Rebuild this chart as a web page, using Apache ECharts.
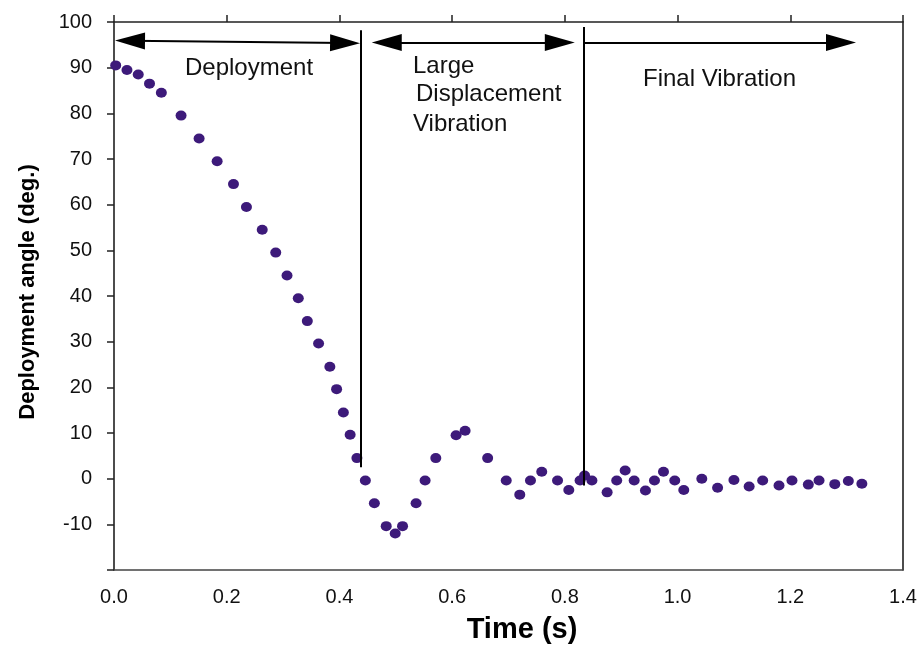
<!DOCTYPE html>
<html>
<head>
<meta charset="utf-8">
<script src="https://cdn.jsdelivr.net/npm/echarts@6/dist/echarts.min.js"></script>
<style>
  html, body { margin: 0; padding: 0; background: #fff; }
  #chart { width: 922px; height: 652px; }
</style>
</head>
<body>
<div id="chart"></div>
<script>
// measured points (time in s, angle in deg.)
const times = [0.003, 0.023, 0.043, 0.063, 0.084, 0.119, 0.151, 0.183, 0.212,
  0.235, 0.263, 0.287, 0.307, 0.327, 0.343, 0.363, 0.383, 0.395,
  0.407, 0.419, 0.431, 0.446, 0.462,
  0.483, 0.499, 0.512, 0.536, 0.552, 0.571, 0.607, 0.623, 0.663,
  0.696, 0.720, 0.739, 0.759, 0.787, 0.807, 0.827, 0.835, 0.848,
  0.875, 0.892, 0.907, 0.923, 0.943,
  0.959, 0.975, 0.995, 1.011,
  1.043, 1.071, 1.100, 1.127, 1.151, 1.180, 1.203, 1.232, 1.251, 1.279, 1.303, 1.327]
const angles = [90.5, 89.5, 88.5, 86.5, 84.5, 79.5, 74.5, 69.5, 64.5,
  59.5, 54.5, 49.5, 44.5, 39.5, 34.5, 29.6, 24.5, 19.6,
  14.5, 9.6, 4.5, -0.4, -5.4,
  -10.4, -12.0, -10.4, -5.4, -0.4, 4.5, 9.5, 10.5, 4.5,
  -0.4, -3.5, -0.4, 1.5, -0.4, -2.5, -0.4, 0.7, -0.4,
  -3.0, -0.4, 1.8, -0.4, -2.6,
  -0.4, 1.5, -0.4, -2.5,
  0.0, -2.0, -0.3, -1.7, -0.4, -1.5, -0.4, -1.3, -0.4, -1.2, -0.5, -1.1]

// phase boundaries [time, top angle, bottom angle]
const dividers = [[0.438, 98.2, 2.5], [0.833, 98.9, -1.5]]
// phase arrows [x1, y1, x2, y2, head at start]
const arrows = [
  [0.0284, 95.9, 0.410, 95.4, true],
  [0.484, 95.5, 0.791, 95.5, true],
  [0.833, 95.5, 1.290, 95.5, false]
]

const xTicks = { min: 0, max: 1.4, interval: 0.2 }
const yTicks = { min: -20, max: 100, interval: 10 }

const points = times.map((t, i) => [t, angles[i]])

const lines = []
dividers.forEach(d => {
  lines.push([
    { coord: [d[0], d[1]], symbol: 'none' },
    { coord: [d[0], d[2]], symbol: 'none' }
  ])
})
arrows.forEach(a => {
  lines.push([
    { coord: [a[0], a[1]], symbol: a[4] ? 'triangle' : 'none', symbolSize: [17, 30] },
    { coord: [a[2], a[3]], symbol: 'triangle', symbolSize: [17, 30] }
  ])
})

const font = 'Liberation Sans, Arial, sans-serif'
const chart = echarts.init(document.getElementById('chart'))

const option = {
  animation: false,
  backgroundColor: '#fff',
  grid: { left: 114, top: 22, right: 19, bottom: 82 },
  xAxis: [{
    type: 'value',
    position: 'bottom',
    min: xTicks.min,
    max: xTicks.max,
    interval: xTicks.interval,
    axisLine: { onZero: false, lineStyle: { color: '#444', width: 1.5 } },
    axisTick: { show: false },
    splitLine: { show: false },
    axisLabel: {
      fontSize: 20,
      color: '#111',
      fontFamily: font,
      margin: 17,
      formatter: v => v.toFixed(1)
    }
  }, {
    type: 'value',
    position: 'top',
    min: xTicks.min,
    max: xTicks.max,
    interval: xTicks.interval,
    axisLine: { show: true, onZero: false, lineStyle: { color: '#222', width: 1.5 } },
    axisTick: { show: true, length: 7, lineStyle: { color: '#222', width: 1.5 } },
    splitLine: { show: false },
    axisLabel: { show: false }
  }],
  yAxis: [{
    type: 'value',
    position: 'left',
    min: yTicks.min,
    max: yTicks.max,
    interval: yTicks.interval,
    axisLine: { show: true, onZero: false, lineStyle: { color: '#111', width: 1.5 } },
    axisTick: { show: true, length: 7, lineStyle: { color: '#222', width: 1.5 } },
    splitLine: { show: false },
    axisLabel: {
      fontSize: 20,
      color: '#111',
      fontFamily: font,
      margin: 22,
      formatter: v => (v === yTicks.min ? '' : v)
    }
  }, {
    type: 'value',
    position: 'right',
    min: yTicks.min,
    max: yTicks.max,
    interval: yTicks.interval,
    axisLine: { show: true, onZero: false, lineStyle: { color: '#111', width: 1.5 } },
    axisTick: { show: false },
    splitLine: { show: false },
    axisLabel: { show: false }
  }],
  series: [{
    type: 'scatter',
    data: points,
    symbol: 'circle',
    symbolSize: [11, 10],
    itemStyle: { color: '#3d1a7a', opacity: 1 },
    markLine: {
      silent: true,
      animation: false,
      label: { show: false },
      lineStyle: { color: '#000', width: 2, type: 'solid', opacity: 1 },
      data: lines
    }
  }],
  graphic: [
    { type: 'text', left: 185, top: 56, style: { text: 'Deployment', fontSize: 24, fontFamily: font, fill: '#111' } },
    { type: 'text', left: 413, top: 54, style: { text: 'Large', fontSize: 24, fontFamily: font, fill: '#111' } },
    { type: 'text', left: 416, top: 82, style: { text: 'Displacement', fontSize: 24, fontFamily: font, fill: '#111' } },
    { type: 'text', left: 413, top: 112, style: { text: 'Vibration', fontSize: 24, fontFamily: font, fill: '#111' } },
    { type: 'text', left: 643, top: 67, style: { text: 'Final Vibration', fontSize: 24, fontFamily: font, fill: '#111' } },
    {
      type: 'text', x: 28, y: 292, rotation: Math.PI / 2,
      style: { text: 'Deployment angle (deg.)', fontSize: 22, fontWeight: 'bold', fontFamily: font, fill: '#000', align: 'center', verticalAlign: 'middle' }
    },
    {
      type: 'text', x: 522, y: 630,
      style: { text: 'Time (s)', fontSize: 29, fontWeight: 'bold', fontFamily: font, fill: '#000', align: 'center', verticalAlign: 'middle' }
    }
  ]
}

chart.setOption(option)
</script>
</body>
</html>
